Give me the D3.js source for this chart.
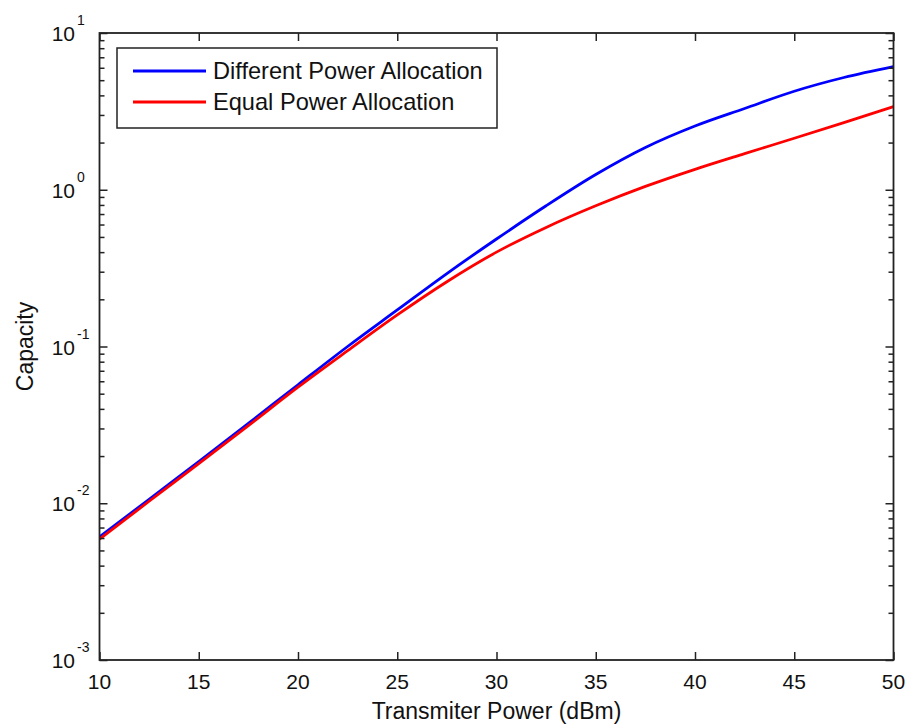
<!DOCTYPE html>
<html>
<head>
<meta charset="utf-8">
<script src="https://cdn.jsdelivr.net/npm/d3@7"></script>
<style>
  body { margin: 0; background: #fff; }
  svg { font-family: "Liberation Sans", Arial, sans-serif; }
  .axis path, .axis line { stroke: #222; }
  .label { fill: #111; }
</style>
</head>
<body>
<svg width="908" height="725"></svg>
<script>
// data
const power = [10, 12.5, 15, 17.5, 20, 22.5, 25, 27.5, 30, 32.5, 35, 37.5, 40, 42.5, 45, 47.5, 50];
const differentAlloc = [0.0061, 0.0106, 0.0184, 0.0323, 0.057, 0.1, 0.171, 0.292, 0.485, 0.79, 1.25, 1.86, 2.55, 3.3, 4.25, 5.2, 6.1];
const equalAlloc = [0.0059, 0.0103, 0.0179, 0.0313, 0.055, 0.094, 0.159, 0.259, 0.40, 0.575, 0.79, 1.05, 1.35, 1.70, 2.13, 2.68, 3.39];
const xTicks = [10, 15, 20, 25, 30, 35, 40, 45, 50];
const yMajor = [1e-3, 1e-2, 1e-1, 1, 10];
const yExponents = ["-3", "-2", "-1", "0", "1"];
const seriesNames = ["Different Power Allocation", "Equal Power Allocation"];
const seriesColors = ["#0000ff", "#ff0000"];

const svg = d3.select('svg');

const pLeft = 99.5, pRight = 893.5, pTop = 33, pBottom = 660;
const width = pRight - pLeft;
const height = pBottom - pTop;

const x = d3.scaleLinear().domain([10, 50]).range([pLeft, pRight]);
const y = d3.scaleLog().domain([1e-3, 10]).range([pBottom, pTop]);

const yMinor = y.ticks().filter(v => !yMajor.some(m => Math.abs(m - v) / m < 1e-6));

// curves (clipped to plot box)
svg.append('clipPath').attr('id', 'plotclip')
  .append('rect').attr('x', pLeft).attr('y', pTop).attr('width', width).attr('height', height);

const line = d3.line()
  .x((d, i) => x(power[i]))
  .y(d => y(d))
  .curve(d3.curveMonotoneX);

[differentAlloc, equalAlloc].forEach((s, k) => {
  svg.append('path')
    .datum(s)
    .attr('clip-path', 'url(#plotclip)')
    .attr('fill', 'none')
    .attr('stroke', seriesColors[k])
    .attr('stroke-width', 2.8)
    .attr('d', line);
});

// axes, ticks pointing inward
svg.append('g').attr('class', 'axis')
  .attr('transform', `translate(0,${pBottom})`)
  .call(d3.axisBottom(x).tickValues(xTicks).tickSize(-8).tickSizeOuter(0).tickFormat(''));
svg.append('g').attr('class', 'axis')
  .attr('transform', `translate(0,${pTop})`)
  .call(d3.axisTop(x).tickValues(xTicks).tickSize(-8).tickSizeOuter(0).tickFormat(''));
svg.append('g').attr('class', 'axis')
  .attr('transform', `translate(${pLeft},0)`)
  .call(d3.axisLeft(y).tickValues(yMajor).tickSize(-8).tickSizeOuter(0).tickFormat(''));
svg.append('g').attr('class', 'axis')
  .attr('transform', `translate(${pLeft},0)`)
  .call(d3.axisLeft(y).tickValues(yMinor).tickSize(-5).tickSizeOuter(0).tickFormat(''));
svg.append('g').attr('class', 'axis')
  .attr('transform', `translate(${pRight},0)`)
  .call(d3.axisRight(y).tickValues(yMajor).tickSize(-8).tickSizeOuter(0).tickFormat(''));
svg.append('g').attr('class', 'axis')
  .attr('transform', `translate(${pRight},0)`)
  .call(d3.axisRight(y).tickValues(yMinor).tickSize(-5).tickSizeOuter(0).tickFormat(''));

svg.selectAll('.axis path').remove();
svg.selectAll('.axis line').attr('stroke-width', 1.5);

// plot frame
svg.append('rect')
  .attr('x', pLeft).attr('y', pTop).attr('width', width).attr('height', height)
  .attr('fill', 'none').attr('stroke', '#222').attr('stroke-width', 1.8);

// x tick labels
svg.append('g').selectAll('text')
  .data(xTicks).enter().append('text')
  .attr('class', 'label')
  .attr('x', d => x(d))
  .attr('y', 689)
  .attr('text-anchor', 'middle')
  .attr('font-size', 21)
  .text(d => d);

// y tick labels 10^n
const yl = svg.append('g').selectAll('g')
  .data(yMajor).enter().append('g');
yl.append('text')
  .attr('class', 'label')
  .attr('x', 75)
  .attr('y', d => y(d) + 8)
  .attr('text-anchor', 'end')
  .attr('font-size', 21)
  .text('10');
yl.append('text')
  .attr('class', 'label')
  .attr('x', 77)
  .attr('y', (d, i) => y(d) - 8)
  .attr('font-size', 14)
  .text((d, i) => yExponents[i]);

// axis titles
svg.append('text')
  .attr('class', 'label')
  .attr('x', (pLeft + pRight) / 2)
  .attr('y', 719)
  .attr('text-anchor', 'middle')
  .attr('font-size', 23)
  .text('Transmiter Power (dBm)');

svg.append('text')
  .attr('class', 'label')
  .attr('transform', `translate(33,${(pTop + pBottom) / 2}) rotate(-90)`)
  .attr('text-anchor', 'middle')
  .attr('font-size', 23)
  .text('Capacity');

// legend
const legend = svg.append('g');
legend.append('rect')
  .attr('x', 117).attr('y', 48).attr('width', 380).attr('height', 80)
  .attr('fill', '#fff').attr('stroke', '#222').attr('stroke-width', 1.5);
seriesNames.forEach((name, k) => {
  const ly = 71 + k * 31;
  legend.append('line')
    .attr('x1', 133).attr('x2', 206).attr('y1', ly).attr('y2', ly)
    .attr('stroke', seriesColors[k]).attr('stroke-width', 2.8);
  legend.append('text')
    .attr('class', 'label')
    .attr('x', 213).attr('y', ly + 8)
    .attr('font-size', 23.6)
    .text(name);
});
</script>
</body>
</html>
